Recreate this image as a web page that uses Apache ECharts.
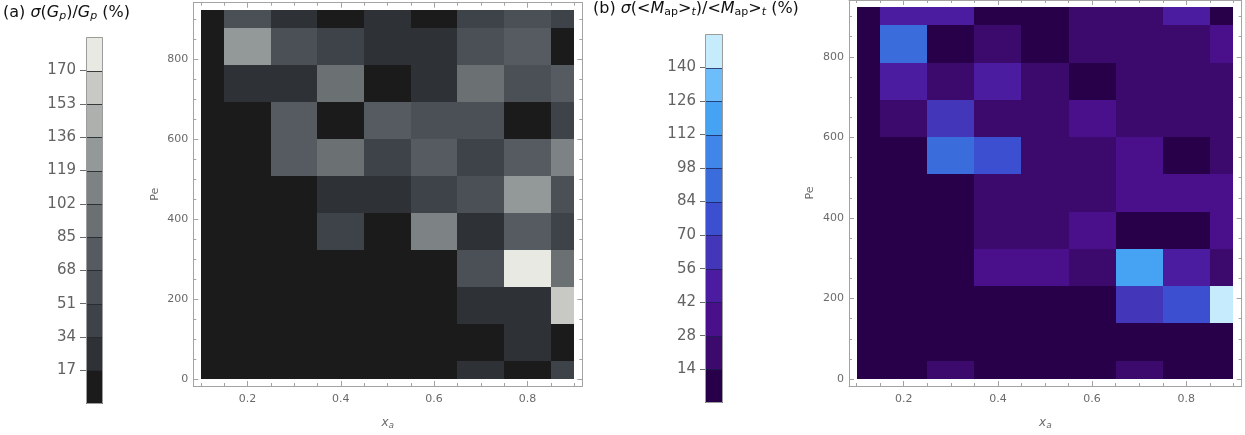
<!DOCTYPE html>
<html>
<head>
<meta charset="utf-8">
<script src="https://cdn.jsdelivr.net/npm/echarts@6/dist/echarts.min.js"></script>
<style>
  html, body { margin: 0; padding: 0; background: #ffffff; }
  #chart { width: 1245px; height: 435px; }
</style>
</head>
<body>
<div id="chart"></div>
<script>
// Grid of simulations: composition x_a (columns) and Péclet number Pe (rows)
const xaCenters = [0.1, 0.2, 0.3, 0.4, 0.5, 0.6, 0.7, 0.8, 0.9];
const peCenters = [0, 92.4, 184.8, 277.2, 369.6, 462, 554.4, 646.8, 739.2, 831.6, 924];

// (a) relative spread of G_p in %, one row per Pe (bottom to top), one entry per x_a
const gpSpread = [
  [6, 5, 4, 6, 5, 6, 26, 7, 43],
  [5, 6, 5, 4, 6, 5, 7, 27, 6],
  [4, 5, 6, 5, 4, 6, 25, 28, 162],
  [6, 4, 5, 6, 5, 4, 60, 179, 94],
  [5, 6, 4, 43, 6, 110, 26, 77, 42],
  [4, 5, 6, 27, 28, 43, 60, 128, 60],
  [6, 4, 77, 94, 43, 77, 43, 77, 110],
  [5, 6, 77, 5, 77, 60, 60, 6, 43],
  [4, 26, 27, 94, 5, 26, 94, 60, 77],
  [6, 128, 60, 43, 26, 27, 60, 77, 6],
  [5, 60, 26, 6, 27, 5, 43, 60, 43]
];

// (b) relative spread of <M_ap>_t in %, same layout
const mapSpread = [
  [5, 6, 21, 5, 6, 4, 21, 5, 6],
  [6, 5, 4, 6, 5, 6, 4, 5, 6],
  [5, 4, 6, 5, 6, 4, 63, 77, 147],
  [4, 6, 5, 35, 35, 21, 119, 49, 21],
  [6, 5, 4, 21, 21, 35, 5, 6, 35],
  [5, 6, 5, 21, 21, 21, 35, 35, 35],
  [4, 5, 91, 77, 21, 21, 35, 5, 21],
  [6, 21, 63, 21, 21, 35, 21, 21, 21],
  [5, 49, 21, 49, 21, 5, 21, 21, 21],
  [4, 91, 5, 21, 6, 21, 21, 21, 35],
  [6, 49, 49, 5, 4, 21, 21, 49, 5]
];

// Colour legends: bin edges, bin colours (low to high) and labelled ticks
const gpEdges = [0, 17, 34, 51, 68, 85, 102, 119, 136, 153, 170, 187];
const gpColors = ['#1b1b1b', '#2e3135', '#3e434a', '#4a5056', '#555b61', '#6b7072',
                  '#7d8284', '#939898', '#aeb0ae', '#c8c9c4', '#e8e9e2'];
const gpTicks = [17, 34, 51, 68, 85, 102, 119, 136, 153, 170];

const mapEdges = [0, 14, 28, 42, 56, 70, 84, 98, 112, 126, 140, 154];
const mapColors = ['#28004a', '#3b0a6c', '#4a108c', '#4b1ca0', '#4436b8', '#3d4fd1',
                   '#3b6cdc', '#3f86e8', '#46a3f4', '#6cbdf9', '#c6ebfd'];
const mapTicks = [14, 28, 42, 56, 70, 84, 98, 112, 126, 140];

// Frame ticks of the heat maps
const xaMajorTicks = [0.2, 0.4, 0.6, 0.8];
const xaMinorTicks = [0.1, 0.15, 0.25, 0.3, 0.35, 0.45, 0.5, 0.55, 0.65, 0.7, 0.75, 0.85, 0.9];
const peMajorTicks = [0, 200, 400, 600, 800];
const peMinorTicks = [50, 100, 150, 250, 300, 350, 450, 500, 550, 650, 700, 750, 850, 900];

const FONT = 'DejaVu Sans';
const FRAME = '#a3a3a3';
const LABEL = '#6a6a6a';
const XA_RANGE = [0.084, 0.9175];
const PE_RANGE = [-17, 941];

function edgesOf(c) {
  const e = [c[0]];
  for (let k = 0; k < c.length - 1; k++) e.push((c[k] + c[k + 1]) / 2);
  e.push(c[c.length - 1]);
  return e;
}

function binColor(v, edges, colors) {
  for (let k = 0; k < colors.length; k++) {
    if (v < edges[k + 1]) return colors[k];
  }
  return colors[colors.length - 1];
}

const xAxes = [];
const yAxes = [];
const series = [];

function frameAxis(kind, grid, pos, ticks, len, withLine, labelCfg, nameCfg) {
  const ax = {
    gridIndex: grid, type: 'value', position: pos,
    min: kind === 'x' ? XA_RANGE[0] : PE_RANGE[0],
    max: kind === 'x' ? XA_RANGE[1] : PE_RANGE[1],
    axisLine: { show: withLine, onZero: false, lineStyle: { color: FRAME, width: 1 } },
    axisTick: { show: true, inside: true, length: len, customValues: ticks,
                lineStyle: { color: FRAME, width: 1 } },
    axisLabel: labelCfg || { show: false },
    splitLine: { show: false },
    silent: true
  };
  if (nameCfg) Object.assign(ax, nameCfg);
  (kind === 'x' ? xAxes : yAxes).push(ax);
  return (kind === 'x' ? xAxes : yAxes).length - 1;
}

function addHeatmap(grid, values, edges, colors) {
  const xi = frameAxis('x', grid, 'bottom', xaMajorTicks, 5, true, {
    customValues: xaMajorTicks, margin: 8, fontSize: 11, fontFamily: FONT, color: LABEL,
    formatter: v => v.toFixed(1)
  }, {
    name: '{i|x}{s|a}', nameLocation: 'middle', nameGap: 29,
    nameTextStyle: { fontFamily: FONT, color: LABEL,
      rich: { i: { fontStyle: 'italic', fontSize: 12, fontFamily: FONT, color: LABEL },
              s: { fontStyle: 'italic', fontSize: 9, fontFamily: FONT, color: LABEL, padding: [6, 0, 0, 0] } } }
  });
  frameAxis('x', grid, 'bottom', xaMinorTicks, 3, false);
  frameAxis('x', grid, 'top', xaMajorTicks, 5, true);
  frameAxis('x', grid, 'top', xaMinorTicks, 3, false);

  const yi = frameAxis('y', grid, 'left', peMajorTicks, 5, true, {
    customValues: peMajorTicks, margin: 5, fontSize: 11, fontFamily: FONT, color: LABEL
  }, {
    name: 'Pe', nameLocation: 'middle', nameGap: 33, nameRotate: 90,
    nameTextStyle: { fontFamily: FONT, fontSize: 11, color: LABEL }
  });
  frameAxis('y', grid, 'left', peMinorTicks, 3, false);
  frameAxis('y', grid, 'right', peMajorTicks, 5, true);
  frameAxis('y', grid, 'right', peMinorTicks, 3, false);

  const data = [];
  values.forEach((row, j) => row.forEach((v, i) => data.push([xaCenters[i], peCenters[j], v, i, j])));
  const xEdges = edgesOf(xaCenters);
  const yEdges = edgesOf(peCenters);

  series.push({
    type: 'custom', xAxisIndex: xi, yAxisIndex: yi, silent: true, z: 1,
    data: data,
    renderItem: function (params, api) {
      const i = api.value(3), j = api.value(4);
      const p0 = api.coord([xEdges[i], yEdges[j]]);
      const p1 = api.coord([xEdges[i + 1], yEdges[j + 1]]);
      // snap cell edges to whole pixels so neighbouring cells meet without seams
      const x0 = Math.round(p0[0]), x1 = Math.round(p1[0]);
      const yb = Math.round(p0[1]), yt = Math.round(p1[1]);
      const c = binColor(api.value(2), edges, colors);
      return {
        type: 'rect',
        shape: { x: x0, y: yt, width: x1 - x0, height: yb - yt },
        style: { fill: c }
      };
    }
  });
}

function addColorbar(grid, edges, colors, ticks, margin, tickLen, sepColor) {
  xAxes.push({ gridIndex: grid, type: 'value', min: 0, max: 1, show: false });
  const xi = xAxes.length - 1;
  yAxes.push({
    gridIndex: grid, type: 'value', position: 'left',
    min: edges[0], max: edges[edges.length - 1],
    axisLine: { show: false },
    axisTick: { show: true, inside: false, length: tickLen, customValues: ticks,
                lineStyle: { color: '#6b6b6b', width: 1 } },
    axisLabel: { customValues: ticks, margin: margin, fontSize: 15, fontFamily: FONT, color: '#626262' },
    splitLine: { show: false }
  });
  const yi = yAxes.length - 1;
  const data = colors.map((c, k) => [edges[k], edges[k + 1], k]);
  series.push({
    type: 'custom', xAxisIndex: xi, yAxisIndex: yi, silent: true, z: 2,
    data: data,
    renderItem: function (params, api) {
      const k = api.value(2);
      const p0 = api.coord([0, api.value(0)]);
      const p1 = api.coord([1, api.value(1)]);
      const x0 = Math.round(p0[0]), x1 = Math.round(p1[0]);
      const yb = Math.round(p0[1]), yt = Math.round(p1[1]);
      const children = [{
        type: 'rect',
        shape: { x: x0, y: yt, width: x1 - x0, height: yb - yt },
        style: { fill: colors[k] }
      }];
      if (k > 0) {
        children.push({
          type: 'line',
          shape: { x1: x0, y1: yb + 0.5, x2: x1, y2: yb + 0.5 },
          style: { stroke: sepColor, lineWidth: 1 }
        });
      }
      return { type: 'group', children: children };
    }
  });
  // outline of the legend bar
  series.push({
    type: 'custom', xAxisIndex: xi, yAxisIndex: yi, silent: true, z: 3,
    data: [[edges[0], edges[edges.length - 1]]],
    renderItem: function (params, api) {
      const p0 = api.coord([0, api.value(0)]);
      const p1 = api.coord([1, api.value(1)]);
      const x0 = Math.round(p0[0]) + 0.5, x1 = Math.round(p1[0]) - 0.5;
      const yb = Math.round(p0[1]) - 0.5, yt = Math.round(p1[1]) + 0.5;
      return {
        type: 'rect',
        shape: { x: x0, y: yt, width: x1 - x0, height: yb - yt },
        style: { fill: 'none', stroke: '#9c9c9c', lineWidth: 1 }
      };
    }
  });
}

const grids = [
  { left: 86, top: 37.3, width: 17, height: 366.3 },     // legend (a)
  { left: 193.3, top: 2.7, width: 389, height: 387.3 },  // heat map (a)
  { left: 705, top: 34, width: 17.7, height: 368.7 },    // legend (b)
  { left: 849, top: -1, width: 392.7, height: 391 }      // heat map (b)
];

addColorbar(0, gpEdges, gpColors, gpTicks, 10, 6, 'rgba(40,42,46,0.9)');
addHeatmap(1, gpSpread, gpEdges, gpColors);
addColorbar(2, mapEdges, mapColors, mapTicks, 9, 5, 'rgba(30,30,80,0.75)');
addHeatmap(3, mapSpread, mapEdges, mapColors);

const titleRich = {
  i: { fontStyle: 'italic', fontSize: 16, fontFamily: FONT, color: '#111' },
  s: { fontSize: 11, fontFamily: FONT, color: '#111', padding: [7, 0, 0, 0] },
  si: { fontStyle: 'italic', fontSize: 11, fontFamily: FONT, color: '#111', padding: [7, 0, 0, 0] }
};

const option = {
  animation: false,
  backgroundColor: '#ffffff',
  title: [
    { left: 3, top: 4, padding: 0,
      text: '(a) {i|σ}({i|G}{si|p})/{i|G}{si|p} (%)',
      textStyle: { fontSize: 16, fontWeight: 'normal', fontFamily: FONT, color: '#111', rich: titleRich } },
    { left: 593, top: 0, padding: 0,
      text: '(b) {i|σ}(<{i|M}{s|ap}>{si|t})/<{i|M}{s|ap}>{si|t} (%)',
      textStyle: { fontSize: 16, fontWeight: 'normal', fontFamily: FONT, color: '#111', rich: titleRich } }
  ],
  grid: grids,
  xAxis: xAxes,
  yAxis: yAxes,
  series: series
};

const chart = echarts.init(document.getElementById('chart'), null, { renderer: 'canvas' });
chart.setOption(option);
</script>
</body>
</html>
